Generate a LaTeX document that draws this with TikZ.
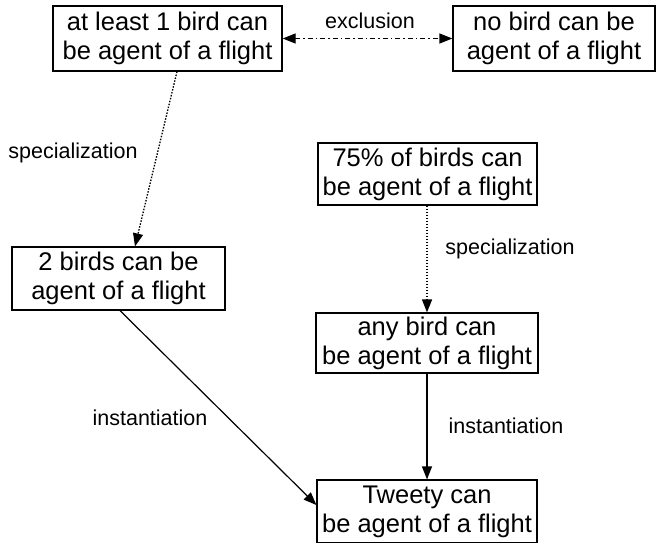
\documentclass[tikz,border=0pt]{standalone}
\usepackage{fontspec}
\setmainfont{Liberation Sans}
\usetikzlibrary{arrows.meta}
\begin{document}
\begin{tikzpicture}[x=1pt,y=-1pt,
  box/.style={draw,line width=1.2pt,align=center,inner sep=0pt,font=\fontsize{25.5}{29}\selectfont},
  lbl/.style={font=\fontsize{21.5}{25}\selectfont,inner sep=0pt},
  tip/.style={-{Triangle[length=13pt,width=10pt]}},
  dots/.style={line width=1.3pt,dash pattern=on 1.5pt off 1.5pt},
  conn/.style={line width=1.2pt}]
\useasboundingbox (0,0) rectangle (660,542);
\node[box,minimum width=229pt,minimum height=65pt] (a) at (167.5,38.5) {at least 1 bird can\\be agent of a flight};
\node[box,minimum width=202pt,minimum height=65pt] (b) at (554,38.5) {no bird can be\\agent of a flight};
\node[box,minimum width=219pt,minimum height=62pt] (c) at (427.5,174) {75\% of birds can\\be agent of a flight};
\node[box,minimum width=213pt,minimum height=63pt] (d) at (118.5,278.5) {2 birds can be\\agent of a flight};
\node[box,minimum width=222pt,minimum height=60pt] (e) at (427,343) {any bird can\\be agent of a flight};
\node[box,minimum width=220pt,minimum height=63pt] (f) at (427,511.5) {Tweety can\\be agent of a flight};
\draw[conn,{Triangle[length=13pt,width=10pt]}-{Triangle[length=13pt,width=10pt]},dash pattern=on 5pt off 3pt on 1.5pt off 3pt] (a.east) -- (b.west);
\node[lbl] (lx) at (370,21) {exclusion};
\draw[dots,tip] (a.south -| 177,0) -- (d.north -| 135,0);
\node[lbl] (l1) at (73,153) {specialization};
\draw[dots,tip] (c.south -| 427,0) -- (e.north -| 427,0);
\node[lbl] (l2) at (510,249) {specialization};
\draw[conn,tip] (d.south -| 120,0) -- (f.west |- 0,505);
\node[lbl] (l3) at (150,418) {instantiation};
\draw[conn,tip] (e.south -| 427,0) -- (f.north -| 427,0);
\node[lbl] (l4) at (506,426) {instantiation};
\end{tikzpicture}
\end{document}
